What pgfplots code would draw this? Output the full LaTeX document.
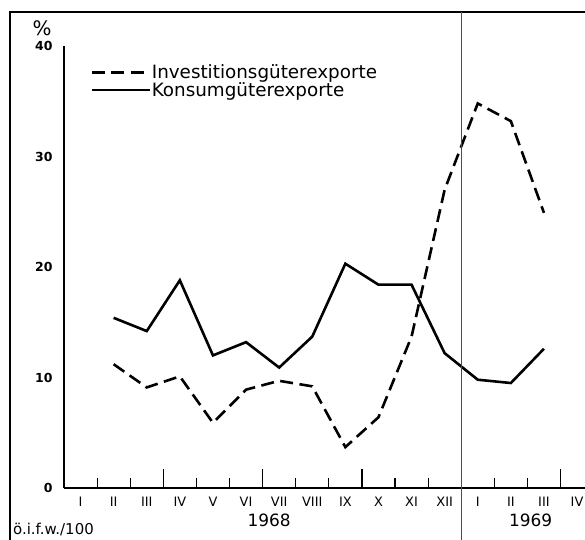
\documentclass[border=0pt]{standalone}
\usepackage{fontspec}
\setmainfont{DejaVu Sans}
\usepackage{pgfplots}
\pgfplotsset{compat=1.18}
\begin{document}
\begin{tikzpicture}
\begin{axis}[
    at={(64bp,52bp)}, anchor=south west,
    scale only axis, width=521bp, height=442bp,
    xmin=0.5, xmax=16.24, ymin=0, ymax=40,
    axis x line=bottom, axis y line=left,
    axis line style={-, line width=1.5bp},
    tick align=inside,
    major tick length=19bp, minor tick length=10bp,
    every tick/.style={black, line width=1.2bp},
    xtick={3.5,6.5,9.5,15.5}, xticklabels={},
    minor xtick={1.5,2.5,...,15.5},
    extra x ticks={1,...,16},
    extra x tick labels={I,II,III,IV,V,VI,VII,VIII,IX,X,XI,XII,I,II,III,IV},
    extra x tick style={major tick length=0pt},
    ytick=\empty, minor ytick={5,10,...,40},
    extra y ticks={0,10,20,30,40},
    extra y tick labels={0,10,20,30,40},
    extra y tick style={major tick length=0pt},
    xticklabel style={font=\fontsize{13}{13}\selectfont, yshift=-6bp},
    yticklabel style={font=\bfseries\fontsize{12.5}{12.5}\selectfont, xshift=-8bp},
    clip=false,
    legend image code/.code={\draw[#1] (0bp,0bp) -- (58bp,0bp);},
    legend style={draw=none, fill=none, inner sep=0pt,
        at={(axis description cs:0.05,0.96)}, anchor=north west,
        font=\fontsize{18.4}{18.4}\selectfont, row sep=0pt,
        nodes={inner sep=1bp}},
    legend cell align=left,
]
\addplot[black, mark=none, line width=2.6bp, dash pattern=on 13bp off 6.5bp]
    coordinates {(2,11.2) (3,9.1) (4,10.1) (5,5.9) (6,8.9) (7,9.7) (8,9.2)
    (9,3.7) (10,6.4) (11,13.7) (12,27.0) (13,34.8) (14,33.2) (15,24.9)};
\addlegendentry{Investitionsgüterexporte}
\addplot[black, mark=none, line width=2.6bp]
    coordinates {(2,15.4) (3,14.2) (4,18.8) (5,12.0) (6,13.2) (7,10.9) (8,13.7)
    (9,20.3) (10,18.4) (11,18.4) (12,12.2) (13,9.8) (14,9.5) (15,12.6)};
\addlegendentry{Konsumgüterexporte}

% frame of the scanned figure and the year separator
\draw[black, line width=2bp] (axis description cs:-0.1036,-0.125)
    -- (axis description cs:-0.1036,1.0769) -- (axis description cs:1.01,1.0769);
\draw[black!70, line width=0.7bp] (axis cs:12.5,-4.8) -- (axis cs:12.5,43.1);
\node[font=\fontsize{17}{17}\selectfont] at (axis cs:6.7,-2.9) {1968};
\node[font=\fontsize{17}{17}\selectfont] at (axis cs:14.6,-2.9) {1969};
\node[font=\fontsize{20}{20}\selectfont] at (axis cs:-0.16,41.6) {\%};
\node[font=\fontsize{15}{15}\selectfont, anchor=base west, inner sep=0pt]
    at (axis description cs:-0.098,-0.106) {ö.i.f.w./100};
\end{axis}
\pgfresetboundingbox
\path[use as bounding box] (0,0) rectangle (585bp,540bp);
\end{tikzpicture}
\end{document}
